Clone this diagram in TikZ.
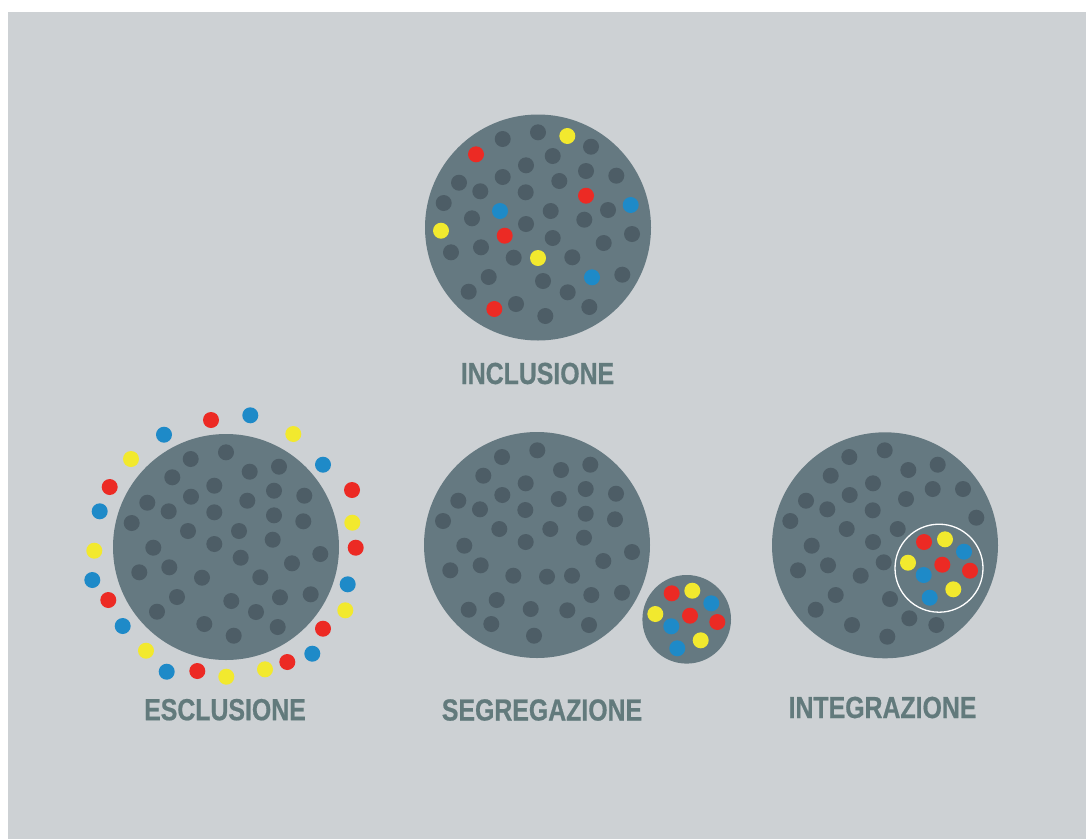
\documentclass[tikz,border=0pt]{standalone}
\usepackage{fontspec}
\newfontfamily\labfont{Liberation Sans}[FakeStretch=0.815, BoldFeatures={FakeBold=0.6}]
\definecolor{bg}{RGB}{205,209,212}
\definecolor{disc}{RGB}{101,121,129}
\definecolor{dotdark}{RGB}{77,93,102}
\definecolor{dotred}{RGB}{236,42,36}
\definecolor{dotyellow}{RGB}{242,233,46}
\definecolor{dotblue}{RGB}{30,138,200}
\definecolor{labcol}{RGB}{98,122,124}
\tikzset{
  discshape/.style={fill=disc},
  darkdot/.style={fill=dotdark},
  reddot/.style={fill=dotred},
  yellowdot/.style={fill=dotyellow},
  bluedot/.style={fill=dotblue},
  labelnode/.style={text=labcol, inner sep=0pt, font=\labfont\bfseries\fontsize{30.5}{30.5}\selectfont}
}
\begin{document}
\begin{tikzpicture}[x=1pt,y=-1pt]
\useasboundingbox (0,0) rectangle (1086,839);
\fill[white] (0,0) rectangle (1086,839);
\fill[bg] (8,12) rectangle (1086,839);

% ---------------- INCLUSIONE ----------------
\fill[discshape] (538,227.5) circle[radius=113];
\foreach \x/\y in {502.7/139,538/132.3,591/146.7,552.7/156,526/165.3,502.7/177,459/182.7,480.3/191.3,525.7/192.3,559.3/181,586/171,616.3/175.7,443.7/203,472/218.3,550.7/211,608/210,584.3/219.7,526/224,632/234,552.7/238,451/252.3,481/247.3,513.7/257.7,572.3/257.3,603.7/243,488.7/277,543/281,622.3/274.7,468.7/291.7,567.7/292.3,516/304,545.3/316,589.3/307}
  \fill[darkdot] (\x,\y) circle[radius=8];
\foreach \x/\y in {567.3/136,441/230.7,538/258}
  \fill[yellowdot] (\x,\y) circle[radius=8];
\foreach \x/\y in {476/154.3,586/195.7,504.7/235.7,494.3/309}
  \fill[reddot] (\x,\y) circle[radius=8];
\foreach \x/\y in {630.7/205,500/211,592/277.3}
  \fill[bluedot] (\x,\y) circle[radius=8];
\node[labelnode] (linclusione) at (537.5,373.5) {INCLUSIONE};

% ---------------- ESCLUSIONE ----------------
\fill[discshape] (226,547) circle[radius=113];
\foreach \x/\y in {190.7/459,226/452.3,249.7/471.7,279/466.7,172.3/477.3,214.3/485.7,191/496.7,274/490.7,304.3/495.7,147.3/502.7,168.7/511.3,214.3/512.3,247.3/500.7,274/515.3,303.3/521.3,131.7/523,188/531,239/531,272.7/539.7,153.3/547.7,214.3/544,240.7/557.7,320.3/554,292/563.3,139.3/572.3,169.3/567.3,202/577.7,260.3/577.3,177/597,231.3/601,280/597.3,310.7/594.3,157/611.7,256/612,204.3/624,233.7/635.7,277.7/627}
  \fill[darkdot] (\x,\y) circle[radius=8];
\foreach \x/\y in {211/420,109.7/487,352/490,355.7/547.7,108.3/600,323/628.7,287.3/662,197.3/671}
  \fill[reddot] (\x,\y) circle[radius=8];
\foreach \x/\y in {250.3/415.3,164/434.7,323/464.7,99.7/511.3,92.3/580,347.7/584.3,122.7/626,312.3/653.7,166.7/671.7}
  \fill[bluedot] (\x,\y) circle[radius=8];
\foreach \x/\y in {293.3/434,131/459,352.3/522.7,94.3/550.7,345.3/610.3,146/650.7,265/669.3,226.3/676.7}
  \fill[yellowdot] (\x,\y) circle[radius=8];
\node[labelnode] (lesclusione) at (225,709.7) {ESCLUSIONE};

% ---------------- SEGREGAZIONE ----------------
\fill[discshape] (537,545) circle[radius=113];
\foreach \x/\y in {502/457,537.3/450.3,483.3/475.7,525.7/483.3,561/470,590.3/464.7,458.3/500.7,480/509.3,502.3/495,525.3/510,558.7/499,585.7/489,616/493.7,443/521,499.3/529,550.3/529,585.7/513.7,615/519.3,464.3/545.7,525.7/542,584/537.7,632/552,450.3/570.3,480.7/565.3,513.3/575.7,547/576.7,572/575.7,603.3/561,496.7/600,591.3/595,622/592.7,468.7/609.7,530.7/609,567.3/610.3,491.3/624,534/635.7,589/625}
  \fill[darkdot] (\x,\y) circle[radius=8];
\fill[discshape] (686.7,619.3) circle[radius=44.3];
\foreach \x/\y in {671.7/593.3,690/615.7,717.3/622}
  \fill[reddot] (\x,\y) circle[radius=8];
\foreach \x/\y in {692.3/590.7,655.3/614,700.7/640.3}
  \fill[yellowdot] (\x,\y) circle[radius=8];
\foreach \x/\y in {711.3/603.3,671.3/626.3,677.3/648.3}
  \fill[bluedot] (\x,\y) circle[radius=8];
\node[labelnode] (lsegregazione) at (542,710) {SEGREGAZIONE};

% ---------------- INTEGRAZIONE ----------------
\fill[discshape] (885,545.3) circle[radius=113];
\foreach \x/\y in {849.3/457,884.7/450.3,830.7/475.7,873/483.3,908.3/470,937.7/464.7,806/500.7,827.3/509.3,849.7/495,872.7/510.3,906/499,932.7/489,963/489,976.3/517.7,790.3/521,846.7/529,897.7/529,811.7/545.7,873/542,883.7/562.3,798/570.3,828/565.3,860.7/575.7,835.7/595,890/599,815.7/609.7,909.3/618.3,936.3/625,852/625,887.3/636.7}
  \fill[darkdot] (\x,\y) circle[radius=8];
\draw[white, line width=1.3pt] (939,568.2) circle[radius=44];
\foreach \x/\y in {924/542,942.3/564.7,970/570.7}
  \fill[reddot] (\x,\y) circle[radius=8];
\foreach \x/\y in {945/539.3,908/562.7,953.3/589.3}
  \fill[yellowdot] (\x,\y) circle[radius=8];
\foreach \x/\y in {964/551.7,923.7/575,929.7/597.7}
  \fill[bluedot] (\x,\y) circle[radius=8];
\node[labelnode] (lintegrazione) at (882.5,707.5) {INTEGRAZIONE};
\end{tikzpicture}
\end{document}
